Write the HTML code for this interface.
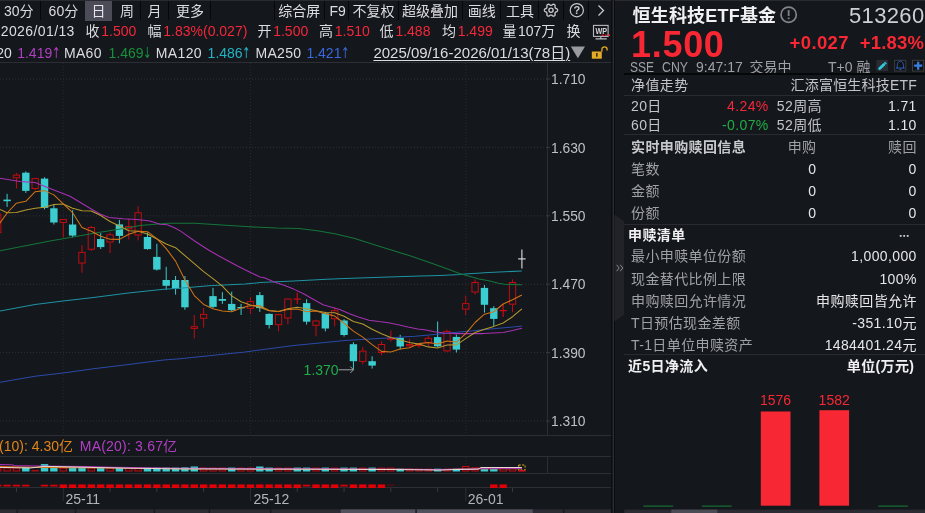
<!DOCTYPE html>
<html lang="zh-CN"><head><meta charset="utf-8"><title>恒生科技ETF基金 513260</title>
<style>
html,body{margin:0;padding:0;background:#14171b;}
body{width:925px;height:513px;overflow:hidden;position:relative;font-family:"Liberation Sans","Noto Sans CJK SC",sans-serif;font-size:14px;color:#dcdde0;}
.t{position:absolute;white-space:nowrap;line-height:20px;height:20px;}
.r{color:#f5283a;}
.hl{position:absolute;background:#2c2e34;height:1px;}
.vl{position:absolute;background:#07080a;width:1px;top:1px;height:19px;}
.lab{color:#a0a1a6;}
.w{color:#e6e6e8;}
.b{font-weight:bold;color:#f0f0f2;}
.rt{text-align:right;}
.rp{letter-spacing:0.38px;}
svg{position:absolute;left:0;top:0;}
.ar{font-family:"DejaVu Sans",sans-serif;font-size:15px;display:inline-block;transform:scaleX(.68);margin:0 -2.8px 0 -2.6px;line-height:1;}
</style></head><body>
<div class="hl" style="left:0;top:0;width:925px;background:#292b31"></div><div style="position:absolute;left:85.300px;top:1px;width:26.900px;height:19.500px;background:#4b4c58"></div><div class="vl" style="left:40px"></div><div class="vl" style="left:140px"></div><div class="vl" style="left:168px"></div><div class="vl" style="left:210px"></div><div class="vl" style="left:274px"></div><div class="vl" style="left:324px"></div><div class="vl" style="left:348px"></div><div class="vl" style="left:398px"></div><div class="vl" style="left:462px"></div><div class="vl" style="left:500px"></div><div class="vl" style="left:538px"></div><div class="vl" style="left:563px"></div><div class="vl" style="left:588px"></div><div class="t " style="left:4px;top:0.5px;">30分</div><div class="t " style="left:48.6px;top:0.5px;">60分</div><div class="t w" style="left:91.5px;top:0.5px;">日</div><div class="t " style="left:120px;top:0.5px;">周</div><div class="t " style="left:147.5px;top:0.5px;">月</div><div class="t " style="left:176px;top:0.5px;">更多</div><div class="t " style="left:278.2px;top:0.5px;">综合屏</div><div class="t " style="left:329.4px;top:0.5px;">F9</div><div class="t " style="left:352.6px;top:0.5px;">不复权</div><div class="t " style="left:402px;top:0.5px;">超级叠加</div><div class="t " style="left:467.8px;top:0.5px;">画线</div><div class="t " style="left:505.9px;top:0.5px;">工具</div><div class="t rt " style="right:850.20px;top:21px;letter-spacing:0.4px">2026/01/13</div><div class="t " style="left:85.5px;top:21px;">收</div><div class="t r" style="left:101.3px;top:21px;">1.500</div><div class="t " style="left:147.5px;top:21px;">幅</div><div class="t r" style="left:163.3px;top:21px;">1.83%(0.027)</div><div class="t " style="left:257.4px;top:21px;">开</div><div class="t r" style="left:273.2px;top:21px;">1.500</div><div class="t " style="left:319px;top:21px;">高</div><div class="t r" style="left:334.8px;top:21px;">1.510</div><div class="t " style="left:379.6px;top:21px;">低</div><div class="t r" style="left:395.40000000000003px;top:21px;">1.488</div><div class="t " style="left:441.9px;top:21px;">均</div><div class="t r" style="left:457.7px;top:21px;">1.499</div><div class="t " style="left:502.4px;top:21px;">量</div><div class="t " style="left:518px;top:21px;">107万</div><div class="t " style="left:566.4px;top:21px;">换</div><div class="t rt " style="right:913.10px;top:42.5px;">MA20</div><div class="t " style="left:17.2px;top:42.5px;color:#b13fc4">1.419<span class="ar">↑</span></div><div class="t " style="left:64px;top:42.5px;letter-spacing:0.3px">MA60</div><div class="t " style="left:108.6px;top:42.5px;color:#17913c">1.469<span class="ar">↓</span></div><div class="t " style="left:155.8px;top:42.5px;letter-spacing:0.35px">MA120</div><div class="t " style="left:207.6px;top:42.5px;color:#25b3c4">1.486<span class="ar">↑</span></div><div class="t " style="left:255.4px;top:42.5px;letter-spacing:0.35px">MA250</div><div class="t " style="left:306.4px;top:42.5px;color:#3868dc">1.421<span class="ar">↑</span></div><div class="t " style="left:373.4px;top:42.5px;font-size:15px;text-decoration:underline;text-underline-offset:2px;text-decoration-thickness:1px">2025/09/16-2026/01/13(78日)</div><div class="hl" style="left:0;top:62px;width:612px"></div><div class="hl" style="left:0;top:435px;width:612px"></div><div class="hl" style="left:0;top:456px;width:612px"></div><div class="hl" style="left:0;top:473px;width:612px"></div><div class="hl" style="left:0;top:487px;width:612px"></div><div class="t rt " style="right:852.00px;top:435.8px;color:#e0861a">MA(10): 4.30亿</div><div class="t " style="left:79.8px;top:435.8px;color:#b13fc4;letter-spacing:0.2px">MA(20): 3.67亿</div><div class="t " style="left:65.4px;top:488.8px;color:#b4b5b9">25-11</div><div class="t " style="left:253.4px;top:488.8px;color:#b4b5b9">25-12</div><div class="t " style="left:467.8px;top:488.8px;color:#b4b5b9">26-01</div><div class="t b" style="left:632.5px;top:4px;font-size:18px;line-height:24px;height:24px;letter-spacing:0.2px">恒生科技ETF基金</div><div class="t rt" style="right:0.5px;top:4px;font-size:22px;line-height:24px;height:24px;color:#cfd0d3;letter-spacing:0.35px">513260</div><div class="t r" style="left:631px;top:24.700px;font-size:36px;font-weight:bold;line-height:40px;height:40px;color:#f72834;letter-spacing:0.7px">1.500</div><div class="t r rt" style="right:76px;top:33px;font-size:18.5px;font-weight:bold;color:#f72834;letter-spacing:0.4px">+0.027</div><div class="t r rt" style="right:0.800px;top:33px;font-size:18.5px;font-weight:bold;color:#f72834;letter-spacing:0.2px">+1.83%</div><div class="t lab" style="left:629.7px;top:56.599999999999994px;transform:scaleX(.86);transform-origin:left">SSE</div><div class="t lab" style="left:661.5px;top:56.599999999999994px;transform:scaleX(.88);transform-origin:left">CNY</div><div class="t lab" style="left:696px;top:56.599999999999994px;">9:47:17</div><div class="t lab" style="left:749.5px;top:56.599999999999994px;">交易中</div><div class="t lab" style="left:828px;top:56.599999999999994px;">T+0 融</div><div style="position:absolute;left:624px;top:73px;width:301px;height:2px;background:#060709"></div><div class="hl" style="left:624px;top:94.5px;width:301px;background:#292b31"></div><div class="hl" style="left:624px;top:134px;width:301px;background:#292b31"></div><div class="hl" style="left:624px;top:223.5px;width:301px;background:#292b31"></div><div class="hl" style="left:624px;top:353.8px;width:301px;background:#292b31"></div><div class="t  rp" style="left:631px;top:75px;color:#c3c4c8">净值走势</div><div class="t rt  rp" style="right:8.02px;top:75px;color:#c3c4c8;letter-spacing:0.2px">汇添富恒生科技ETF</div><div class="t  rp" style="left:631px;top:96px;color:#c3c4c8">20日</div><div class="t rt r rp" style="right:156.32px;top:96px;">4.24%</div><div class="t  rp" style="left:776.8px;top:96px;color:#c3c4c8">52周高</div><div class="t rt w rp" style="right:8.22px;top:96px;">1.71</div><div class="t  rp" style="left:631px;top:115.4px;color:#c3c4c8">60日</div><div class="t rt  rp" style="right:156.32px;top:115.4px;color:#1fae46">-0.07%</div><div class="t  rp" style="left:776.8px;top:115.4px;color:#c3c4c8">52周低</div><div class="t rt w rp" style="right:8.22px;top:115.4px;">1.10</div><div class="t b rp" style="left:631px;top:136.6px;color:#c8c9cc">实时申购赎回信息</div><div class="t rt lab rp" style="right:108.62px;top:136.6px;">申购</div><div class="t rt lab rp" style="right:8.22px;top:136.6px;">赎回</div><div class="t lab rp" style="left:631px;top:158.7px;">笔数</div><div class="t rt w rp" style="right:108.62px;top:158.7px;">0</div><div class="t rt w rp" style="right:8.22px;top:158.7px;">0</div><div class="t lab rp" style="left:631px;top:180.8px;">金额</div><div class="t rt w rp" style="right:108.62px;top:180.8px;">0</div><div class="t rt w rp" style="right:8.22px;top:180.8px;">0</div><div class="t lab rp" style="left:631px;top:202.6px;">份额</div><div class="t rt w rp" style="right:108.62px;top:202.6px;">0</div><div class="t rt w rp" style="right:8.22px;top:202.6px;">0</div><div class="t b rp" style="left:628px;top:225px;">申赎清单</div><div class="t lab rp" style="left:631px;top:246.3px;">最小申赎单位份额</div><div class="t rt w rp" style="right:8.22px;top:246.3px;">1,000,000</div><div class="t lab rp" style="left:631px;top:269.2px;">现金替代比例上限</div><div class="t rt w rp" style="right:8.22px;top:269.2px;">100%</div><div class="t lab rp" style="left:631px;top:291.3px;">申购赎回允许情况</div><div class="t rt w rp" style="right:8.22px;top:291.3px;">申购赎回皆允许</div><div class="t lab rp" style="left:631px;top:312.7px;">T日预估现金差额</div><div class="t rt w rp" style="right:8.22px;top:312.7px;">-351.10元</div><div class="t lab rp" style="left:631px;top:334.5px;">T-1日单位申赎资产</div><div class="t rt w rp" style="right:8.22px;top:334.5px;">1484401.24元</div><div class="t b rp" style="left:628px;top:356px;">近5日净流入</div><div class="t rt b rp" style="right:10.62px;top:356px;">单位(万元)</div><div class="t" style="left:745.600px;width:60px;text-align:center;top:390px;color:#f72834">1576</div><div class="t" style="left:804.200px;width:60px;text-align:center;top:389.500px;color:#f72834">1582</div>
<svg width="925" height="513" viewBox="0 0 925 513">
<g fill="none" stroke="#c8c9cc" stroke-width="1.35" stroke-linejoin="round"><circle cx="551" cy="10.2" r="2.1"/><path d="M557.60 10.20L557.55 10.63L557.39 11.04L557.11 11.41L556.55 11.69L555.99 11.89L555.67 12.14L555.43 12.38L555.24 12.65L555.11 12.94L555.01 13.28L554.96 13.68L555.07 14.27L555.11 14.88L554.92 15.31L554.64 15.65L554.30 15.92L553.90 16.08L553.46 16.15L553.00 16.10L552.49 15.75L552.03 15.37L551.66 15.22L551.32 15.13L551.00 15.10L550.68 15.13L550.34 15.22L549.97 15.37L549.51 15.75L549.00 16.10L548.54 16.15L548.10 16.08L547.70 15.92L547.36 15.65L547.08 15.31L546.89 14.88L546.93 14.27L547.04 13.68L546.99 13.28L546.89 12.94L546.76 12.65L546.57 12.38L546.33 12.14L546.01 11.89L545.45 11.69L544.89 11.41L544.61 11.04L544.45 10.63L544.40 10.20L544.45 9.77L544.61 9.36L544.89 8.99L545.45 8.71L546.01 8.51L546.33 8.26L546.57 8.02L546.76 7.75L546.89 7.46L546.99 7.12L547.04 6.72L546.93 6.13L546.89 5.52L547.08 5.09L547.36 4.75L547.70 4.48L548.10 4.32L548.54 4.25L549.00 4.30L549.51 4.65L549.97 5.03L550.34 5.18L550.68 5.27L551.00 5.30L551.32 5.27L551.66 5.18L552.03 5.03L552.49 4.65L553.00 4.30L553.46 4.25L553.90 4.32L554.30 4.48L554.64 4.75L554.92 5.09L555.11 5.52L555.07 6.13L554.96 6.72L555.01 7.12L555.11 7.46L555.24 7.75L555.43 8.02L555.67 8.26L555.99 8.51L556.55 8.71L557.11 8.99L557.39 9.36L557.55 9.77z"/></g>
<circle cx="576.8" cy="10.2" r="6.6" fill="none" stroke="#c8c9cc" stroke-width="1.2"/>
<text x="576.8" y="14.3" font-size="11" font-weight="bold" fill="#c8c9cc" text-anchor="middle" font-family='Liberation Sans,sans-serif'>?</text>
<path d="M598.5 5.5l5 5-5 5" fill="none" stroke="#c8c9cc" stroke-width="1.3"/>
<g fill="none" stroke="#b9babd" stroke-width="1.1"><rect x="593.5" y="25.4" width="14.6" height="11"/><path d="M600.8 36.4v2M595.5 38.9h11.3"/></g>
<text x="601.3" y="34.3" font-size="8.2" font-weight="bold" fill="#d4d4d7" text-anchor="middle" textLength="11.6" lengthAdjust="spacingAndGlyphs" font-family='Liberation Sans,sans-serif'>WP</text>
<path d="M601.800 35.3h8.400" stroke="#f01c2c" stroke-width="1.600" stroke-dasharray="1.800 1.400"/>
<path d="M570.800 46.600h14.200l-7.100 11.600z" fill="#9a9ba0"/>
<g><rect x="591.800" y="51.500" width="10" height="7.200" fill="#e4ab24"/><rect x="596.200" y="53" width="1.300" height="3.700" fill="#14171b"/><path d="M601.900 51.800v-2.400a2.600 2.600 0 0 1 5.200 0v1.200" fill="none" stroke="#e4ab24" stroke-width="1.300"/></g>
<path d="M0 79H548" stroke="#2e3037" stroke-width="1" stroke-dasharray="1 2"/>
<path d="M546 79H550" stroke="#3a3c43" stroke-width="1"/>
<path d="M0 147.4H548" stroke="#2e3037" stroke-width="1" stroke-dasharray="1 2"/>
<path d="M546 147.4H550" stroke="#3a3c43" stroke-width="1"/>
<path d="M0 215.8H548" stroke="#2e3037" stroke-width="1" stroke-dasharray="1 2"/>
<path d="M546 215.8H550" stroke="#3a3c43" stroke-width="1"/>
<path d="M0 284.2H548" stroke="#2e3037" stroke-width="1" stroke-dasharray="1 2"/>
<path d="M546 284.2H550" stroke="#3a3c43" stroke-width="1"/>
<path d="M0 352.6H548" stroke="#2e3037" stroke-width="1" stroke-dasharray="1 2"/>
<path d="M546 352.6H550" stroke="#3a3c43" stroke-width="1"/>
<path d="M0 421H548" stroke="#2e3037" stroke-width="1" stroke-dasharray="1 2"/>
<path d="M546 421H550" stroke="#3a3c43" stroke-width="1"/>
<path d="M63.3 63V435" stroke="#272930" stroke-width="1" stroke-dasharray="1 2"/>
<path d="M63.3 457V473" stroke="#272930" stroke-width="1" stroke-dasharray="1 2"/>
<path d="M250.5 63V435" stroke="#272930" stroke-width="1" stroke-dasharray="1 2"/>
<path d="M250.5 457V473" stroke="#272930" stroke-width="1" stroke-dasharray="1 2"/>
<path d="M465.8 63V435" stroke="#272930" stroke-width="1" stroke-dasharray="1 2"/>
<path d="M465.8 457V473" stroke="#272930" stroke-width="1" stroke-dasharray="1 2"/>
<path d="M547.5 62V435.5M547.5 456.5V473.5" stroke="#2c2e35" stroke-width="1"/>
<path d="M-2.27 208V213.7M-2.27 232.8V236" stroke="#c40c12" stroke-width="1"/>
<rect x="-5.42" y="214" width="6.3" height="18.5" fill="none" stroke="#c40c12" stroke-width="1"/>
<path d="M7.09 193.8V206.9" stroke="#3ccdd0" stroke-width="1"/>
<rect x="3.39" y="199.6" width="7.4" height="1.6" fill="#3ccdd0"/>
<path d="M16.45 172.9V174.8M16.45 178.1V188.5" stroke="#c40c12" stroke-width="1"/>
<rect x="13.3" y="175.1" width="6.3" height="2.7" fill="none" stroke="#c40c12" stroke-width="1"/>
<path d="M25.81 171.4V192.9" stroke="#3ccdd0" stroke-width="1"/>
<rect x="22.11" y="172.7" width="7.4" height="18.2" fill="#3ccdd0"/>
<path d="M35.17 188.8V190.3" stroke="#c40c12" stroke-width="1"/>
<rect x="32.02" y="178.6" width="6.3" height="9.9" fill="none" stroke="#c40c12" stroke-width="1"/>
<path d="M44.53 177.3V209.4" stroke="#3ccdd0" stroke-width="1"/>
<rect x="40.83" y="178.6" width="7.4" height="29.3" fill="#3ccdd0"/>
<path d="M53.89 204.6V224.5" stroke="#3ccdd0" stroke-width="1"/>
<rect x="50.19" y="208.3" width="7.4" height="14.2" fill="#3ccdd0"/>
<path d="M63.25 222.7V237.1" stroke="#c40c12" stroke-width="1"/>
<rect x="60.1" y="219.5" width="6.3" height="2.9" fill="none" stroke="#c40c12" stroke-width="1"/>
<path d="M72.61 210.2V237.5" stroke="#3ccdd0" stroke-width="1"/>
<rect x="68.91" y="224.5" width="7.4" height="11.1" fill="#3ccdd0"/>
<path d="M81.97 245.1V252.1M81.97 263.3V272.8" stroke="#c40c12" stroke-width="1"/>
<rect x="78.82" y="252.4" width="6.3" height="10.6" fill="none" stroke="#c40c12" stroke-width="1"/>
<path d="M91.33 226V227.2M91.33 249.5V251" stroke="#c40c12" stroke-width="1"/>
<rect x="88.18" y="227.5" width="6.3" height="21.7" fill="none" stroke="#c40c12" stroke-width="1"/>
<path d="M100.69 233.1V249.1" stroke="#3ccdd0" stroke-width="1"/>
<rect x="96.99" y="239" width="7.4" height="8.1" fill="#3ccdd0"/>
<path d="M110.05 232.5V234.5M110.05 242.3V253" stroke="#c40c12" stroke-width="1"/>
<rect x="106.9" y="234.8" width="6.3" height="7.2" fill="none" stroke="#c40c12" stroke-width="1"/>
<path d="M119.41 219.9V243.3" stroke="#3ccdd0" stroke-width="1"/>
<rect x="115.71" y="224.4" width="7.4" height="11.5" fill="#3ccdd0"/>
<path d="M128.77 218.9V226.3M128.77 229.2V239.4" stroke="#c40c12" stroke-width="1"/>
<rect x="125.62" y="226.6" width="6.3" height="2.3" fill="none" stroke="#c40c12" stroke-width="1"/>
<path d="M138.13 206.4V212.5M138.13 235.3V240.4" stroke="#c40c12" stroke-width="1"/>
<rect x="134.98" y="212.8" width="6.3" height="22.2" fill="none" stroke="#c40c12" stroke-width="1"/>
<path d="M147.49 232.5V249.7" stroke="#3ccdd0" stroke-width="1"/>
<rect x="143.79" y="237" width="7.4" height="12.1" fill="#3ccdd0"/>
<path d="M156.85 243.8V270.6" stroke="#3ccdd0" stroke-width="1"/>
<rect x="153.15" y="256.9" width="7.4" height="12.7" fill="#3ccdd0"/>
<path d="M166.21 266.8V289.8" stroke="#3ccdd0" stroke-width="1"/>
<rect x="162.51" y="280" width="7.4" height="5.8" fill="#3ccdd0"/>
<path d="M175.57 276V294.6" stroke="#3ccdd0" stroke-width="1"/>
<rect x="171.87" y="280" width="7.4" height="8.7" fill="#3ccdd0"/>
<path d="M184.93 276V309.8" stroke="#3ccdd0" stroke-width="1"/>
<rect x="181.23" y="280" width="7.4" height="27.3" fill="#3ccdd0"/>
<path d="M194.29 315V326.4M194.29 328.7V338.4" stroke="#c40c12" stroke-width="1"/>
<rect x="191.14" y="326.7" width="6.3" height="1.7" fill="none" stroke="#c40c12" stroke-width="1"/>
<path d="M203.65 307.8V314.1M203.65 318.6V327.7" stroke="#c40c12" stroke-width="1"/>
<rect x="200.5" y="314.4" width="6.3" height="3.9" fill="none" stroke="#c40c12" stroke-width="1"/>
<path d="M213.01 287.8V308.2" stroke="#3ccdd0" stroke-width="1"/>
<rect x="209.31" y="296.1" width="7.4" height="10.8" fill="#3ccdd0"/>
<path d="M222.37 292.2V303.9" stroke="#3ccdd0" stroke-width="1"/>
<rect x="218.67" y="299" width="7.4" height="1.8" fill="#3ccdd0"/>
<path d="M231.73 291.7V311.2" stroke="#3ccdd0" stroke-width="1"/>
<rect x="228.03" y="303.9" width="7.4" height="6.3" fill="#3ccdd0"/>
<path d="M241.09 303.9V315" stroke="#3ccdd0" stroke-width="1"/>
<rect x="237.39" y="307" width="7.4" height="1.3" fill="#3ccdd0"/>
<path d="M250.45 297.2V301.3M250.45 308.6V314" stroke="#c40c12" stroke-width="1"/>
<rect x="247.3" y="301.6" width="6.3" height="6.7" fill="none" stroke="#c40c12" stroke-width="1"/>
<path d="M259.81 292V311.9" stroke="#3ccdd0" stroke-width="1"/>
<rect x="256.11" y="295.1" width="7.4" height="13" fill="#3ccdd0"/>
<path d="M269.17 313.3V328.5" stroke="#3ccdd0" stroke-width="1"/>
<rect x="265.47" y="313.9" width="7.4" height="11.1" fill="#3ccdd0"/>
<path d="M278.53 313.7V314.4M278.53 325V331.4" stroke="#c40c12" stroke-width="1"/>
<rect x="275.38" y="314.7" width="6.3" height="10" fill="none" stroke="#c40c12" stroke-width="1"/>
<path d="M287.89 318.3V324.2" stroke="#c40c12" stroke-width="1"/>
<rect x="284.74" y="299" width="6.3" height="19" fill="none" stroke="#c40c12" stroke-width="1"/>
<path d="M297.25 292.4V304.1M293.55 299.2H300.95" stroke="#c40c12" stroke-width="1.2"/>
<path d="M306.61 299.2V324.6" stroke="#3ccdd0" stroke-width="1"/>
<rect x="302.91" y="303.1" width="7.4" height="18.6" fill="#3ccdd0"/>
<path d="M315.97 319.7V320.7M315.97 325.6V336.3" stroke="#c40c12" stroke-width="1"/>
<rect x="312.82" y="321" width="6.3" height="4.3" fill="none" stroke="#c40c12" stroke-width="1"/>
<path d="M325.33 311.9V331.4" stroke="#3ccdd0" stroke-width="1"/>
<rect x="321.63" y="313.3" width="7.4" height="15.2" fill="#3ccdd0"/>
<path d="M334.69 307.4V310.4M334.69 319.1V326.5" stroke="#c40c12" stroke-width="1"/>
<rect x="331.54" y="310.7" width="6.3" height="8.1" fill="none" stroke="#c40c12" stroke-width="1"/>
<path d="M344.05 319.2V336.6" stroke="#3ccdd0" stroke-width="1"/>
<rect x="340.35" y="320.5" width="7.4" height="14.5" fill="#3ccdd0"/>
<path d="M353.41 342.2V369.5" stroke="#3ccdd0" stroke-width="1"/>
<rect x="349.71" y="344.2" width="7.4" height="17" fill="#3ccdd0"/>
<path d="M362.77 346.9V350.8M362.77 361.7V364.5" stroke="#c40c12" stroke-width="1"/>
<rect x="359.62" y="351.1" width="6.3" height="10.3" fill="none" stroke="#c40c12" stroke-width="1"/>
<path d="M372.13 356.3V368.6" stroke="#3ccdd0" stroke-width="1"/>
<rect x="368.43" y="361.2" width="7.4" height="4.4" fill="#3ccdd0"/>
<path d="M381.49 341.3V344.2M381.49 352.8V355.3" stroke="#c40c12" stroke-width="1"/>
<rect x="378.34" y="344.5" width="6.3" height="8" fill="none" stroke="#c40c12" stroke-width="1"/>
<path d="M390.85 330.4V337.9M390.85 339.6V341.7" stroke="#c40c12" stroke-width="1"/>
<rect x="387.7" y="338.2" width="6.3" height="1.1" fill="none" stroke="#c40c12" stroke-width="1"/>
<path d="M400.21 334.8V349.5" stroke="#3ccdd0" stroke-width="1"/>
<rect x="396.51" y="337.8" width="7.4" height="8.7" fill="#3ccdd0"/>
<path d="M409.57 338.7V344.2M409.57 346.1V347.5" stroke="#c40c12" stroke-width="1"/>
<rect x="406.42" y="344.5" width="6.3" height="1.3" fill="none" stroke="#c40c12" stroke-width="1"/>
<path d="M418.93 343.5V347.4M415.23 345.4H422.63" stroke="#c40c12" stroke-width="1.2"/>
<path d="M428.29 336.1V338M428.29 343.2V346.3" stroke="#c40c12" stroke-width="1"/>
<rect x="425.14" y="338.3" width="6.3" height="4.6" fill="none" stroke="#c40c12" stroke-width="1"/>
<path d="M437.65 321.5V347.3" stroke="#3ccdd0" stroke-width="1"/>
<rect x="433.95" y="337.1" width="7.4" height="9.2" fill="#3ccdd0"/>
<path d="M447.01 329.7V331.1M447.01 351.2V352.1" stroke="#c40c12" stroke-width="1"/>
<rect x="443.86" y="331.4" width="6.3" height="19.5" fill="none" stroke="#c40c12" stroke-width="1"/>
<path d="M456.37 334.6V352.5" stroke="#3ccdd0" stroke-width="1"/>
<rect x="452.67" y="336.9" width="7.4" height="12.7" fill="#3ccdd0"/>
<path d="M465.73 295.7V303.3M465.73 309.4V315" stroke="#c40c12" stroke-width="1"/>
<rect x="462.58" y="303.6" width="6.3" height="5.5" fill="none" stroke="#c40c12" stroke-width="1"/>
<path d="M475.09 279.4V282.2M475.09 292.3V294.5" stroke="#c40c12" stroke-width="1"/>
<rect x="471.94" y="282.5" width="6.3" height="9.5" fill="none" stroke="#c40c12" stroke-width="1"/>
<path d="M484.45 285V312.6" stroke="#3ccdd0" stroke-width="1"/>
<rect x="480.75" y="287.9" width="7.4" height="16.9" fill="#3ccdd0"/>
<path d="M493.81 306.2V326.3" stroke="#3ccdd0" stroke-width="1"/>
<rect x="490.11" y="308.2" width="7.4" height="10.7" fill="#3ccdd0"/>
<path d="M503.17 304.3V317M499.47 310.7H506.87" stroke="#c40c12" stroke-width="1.2"/>
<path d="M512.53 279.4V282.2M512.53 304.5V312.3" stroke="#c40c12" stroke-width="1"/>
<rect x="509.38" y="282.5" width="6.3" height="21.7" fill="none" stroke="#c40c12" stroke-width="1"/>
<path d="M521.89 249.6V268.5M518.19 258.8H525.59" stroke="#d0d0d0" stroke-width="1.2"/>
<polyline fill="none" stroke="#2b4aa8" stroke-width="1.05" stroke-linejoin="round" points="0,382.3 35,376.3 63,373 93.5,368.8 128.5,364.6 163.6,360.1 180,358.7 245,351.9 293.7,345.6 330,342 345,340.6 378.7,338.6 415,336.3 434.5,334.6 454,332.6 473.5,330.7 493,328.7 515,326.8 521.9,326"/>
<polyline fill="none" stroke="#1d93a3" stroke-width="1.05" stroke-linejoin="round" points="0,311.1 35,304.5 63,301 93.5,297.5 128.5,292.9 163.6,289.3 180,288.2 208.7,285.8 245,284 260,282.6 293.7,281.1 326.7,279.2 345,278.4 373.5,277.6 420.2,275.9 440,275.4 460,274.6 465.3,274 488.7,272.4 521.9,271.1"/>
<polyline fill="none" stroke="#14753a" stroke-width="1.05" stroke-linejoin="round" points="0,250.8 50,241 100,232.3 125,228.3 140,225.4 167.3,223.2 194.6,223.2 222,225.1 249.3,226.8 276.6,228.1 298.7,228.5 317.4,230.8 336,233.9 354.8,238.6 373.5,244.4 392.1,250.2 410.8,256.1 429.5,262.6 440,266.2 449.7,269.7 459.5,273.6 469.2,276.3 479,278.9 488.7,280.8 498.5,283.3 504.3,284.3 521.9,284.7"/>
<polyline fill="none" stroke="#a631b2" stroke-width="1.05" stroke-linejoin="round" points="0,178.3 20,181.6 35,182.5 50,188.4 70,196.2 90,208.3 100,214 109,217.4 123,218.7 137,219.6 150,221 160,224.2 167.3,224.8 175,228 181,231.4 194.6,241 208.5,250 218.5,255.8 228.2,261 238,266.3 248,271.3 260,277 264.5,277.8 274.2,282.1 284,285.2 293.7,289.1 303.5,293.8 313.2,299.2 323,304.7 332.7,307.4 339.7,309.5 349.5,313.8 359.2,317.3 369,320.2 378.7,321.6 388.5,322.7 398.2,324.7 408,327 417.7,329 424.7,329.7 434.5,331.7 444.2,333 454,333.6 463.7,333.6 473.5,333.6 483.2,333.6 493,333 503.4,332.4 512.5,330.5 521.9,328.2"/>
<polyline fill="none" stroke="#b59a2e" stroke-width="1.05" stroke-linejoin="round" points="0,209.4 7.1,212.8 16.4,212.4 25.8,210 35.2,208.3 44.5,207.3 53.9,204.6 63.2,204 72.6,208.3 82,210.8 91.33,210.97 100.69,215.56 110.05,221.53 119.41,226.03 128.77,230.83 138.13,231.29 147.49,233.95 156.85,238.99 166.21,244.01 175.57,247.67 184.93,255.68 194.29,263.61 203.65,271.57 213.01,278.67 222.37,286.12 231.73,295.89 241.09,301.8 250.45,304.97 259.81,307.2 269.17,310.83 278.53,311.54 287.89,308.77 297.25,307.28 306.61,308.76 315.97,310.75 325.33,312.58 334.69,312.8 344.05,316.17 353.41,321.48 362.77,324.06 372.13,329.18 381.49,333.73 390.85,337.6 400.21,340.08 409.57,342.43 418.93,344.12 428.29,346.88 437.65,348.01 447.01,345 456.37,344.88 465.73,338.65 475.09,332.45 484.45,329.14 493.81,326.38 503.17,323.03 512.53,316.71 521.89,308.79"/>
<polyline fill="none" stroke="#cf7418" stroke-width="1.05" stroke-linejoin="round" points="-2.3,226 0,223 7.1,213 16.4,203.2 25.8,201.3 35.2,191.7 44.53,190.62 53.89,194.88 63.25,203.76 72.61,212.7 81.97,227.46 91.33,231.32 100.69,236.24 110.05,239.3 119.41,239.36 128.77,234.2 138.13,231.26 147.49,231.66 156.85,238.68 166.21,248.66 175.57,261.14 184.93,280.1 194.29,295.56 203.65,304.46 213.01,308.68 222.37,311.1 231.73,311.68 241.09,308.04 250.45,305.48 259.81,305.72 269.17,310.56 278.53,311.4 287.89,309.5 297.25,309.08 306.61,311.8 315.97,310.94 325.33,313.76 334.69,316.1 344.05,323.26 353.41,331.16 362.77,337.18 372.13,344.6 381.49,351.36 390.85,351.94 400.21,349 409.57,347.68 418.93,343.64 428.29,342.4 437.65,344.08 447.01,341 456.37,342.08 465.73,333.66 475.09,322.5 484.45,314.2 493.81,311.76 503.17,303.98 512.53,299.76 521.89,295.08"/>
<text x="303.6" y="374.6" font-size="14" fill="#20ad48" font-family='Liberation Sans,sans-serif'>1.370</text>
<path d="M338.5 369.8H353.5M350.3 366.6l3.2 3.2-3.2 3.2" fill="none" stroke="#a0a1a5" stroke-width="1"/>
<text x="551" y="84.2" font-size="13.8" fill="#bfc0c3" font-family='Liberation Sans,sans-serif'>1.710</text>
<text x="551" y="152.6" font-size="13.8" fill="#bfc0c3" font-family='Liberation Sans,sans-serif'>1.630</text>
<text x="551" y="221.0" font-size="13.8" fill="#bfc0c3" font-family='Liberation Sans,sans-serif'>1.550</text>
<text x="551" y="289.4" font-size="13.8" fill="#bfc0c3" font-family='Liberation Sans,sans-serif'>1.470</text>
<text x="551" y="357.8" font-size="13.8" fill="#bfc0c3" font-family='Liberation Sans,sans-serif'>1.390</text>
<text x="551" y="426.2" font-size="13.8" fill="#bfc0c3" font-family='Liberation Sans,sans-serif'>1.310</text>
<rect x="-5.47" y="468" width="6.4" height="3" fill="#2a0a0e" stroke="#c00c14" stroke-width="1"/>
<rect x="3.89" y="468" width="6.4" height="3" fill="#2a0a0e" stroke="#c00c14" stroke-width="1"/>
<rect x="13.25" y="468" width="6.4" height="3" fill="#2a0a0e" stroke="#c00c14" stroke-width="1"/>
<rect x="22.11" y="467.3" width="7.4" height="4.2" fill="#3ccdd0"/>
<rect x="31.47" y="469.9" width="7.4" height="1.6" fill="#a80c12"/>
<rect x="40.83" y="464.1" width="7.4" height="7.4" fill="#3ccdd0"/>
<rect x="50.19" y="467.6" width="7.4" height="3.9" fill="#3ccdd0"/>
<rect x="60.05" y="468.1" width="6.4" height="2.9" fill="#2a0a0e" stroke="#c00c14" stroke-width="1"/>
<rect x="68.91" y="467.6" width="7.4" height="3.9" fill="#3ccdd0"/>
<rect x="78.27" y="467.6" width="7.4" height="3.9" fill="#3ccdd0"/>
<rect x="88.13" y="468.1" width="6.4" height="2.9" fill="#2a0a0e" stroke="#c00c14" stroke-width="1"/>
<rect x="96.99" y="467.6" width="7.4" height="3.9" fill="#3ccdd0"/>
<rect x="106.85" y="468.1" width="6.4" height="2.9" fill="#2a0a0e" stroke="#c00c14" stroke-width="1"/>
<rect x="115.71" y="467.6" width="7.4" height="3.9" fill="#3ccdd0"/>
<rect x="125.57" y="468.1" width="6.4" height="2.9" fill="#2a0a0e" stroke="#c00c14" stroke-width="1"/>
<rect x="134.93" y="468.1" width="6.4" height="2.9" fill="#2a0a0e" stroke="#c00c14" stroke-width="1"/>
<rect x="143.79" y="467.6" width="7.4" height="3.9" fill="#3ccdd0"/>
<rect x="153.15" y="467.6" width="7.4" height="3.9" fill="#3ccdd0"/>
<rect x="162.51" y="467.6" width="7.4" height="3.9" fill="#3ccdd0"/>
<rect x="171.87" y="467.6" width="7.4" height="3.9" fill="#3ccdd0"/>
<rect x="181.23" y="467.3" width="7.4" height="4.2" fill="#3ccdd0"/>
<rect x="190.59" y="466.5" width="7.4" height="5" fill="#3ccdd0"/>
<rect x="200.45" y="468.1" width="6.4" height="2.9" fill="#2a0a0e" stroke="#c00c14" stroke-width="1"/>
<rect x="209.81" y="468.1" width="6.4" height="2.9" fill="#2a0a0e" stroke="#c00c14" stroke-width="1"/>
<rect x="219.17" y="468.1" width="6.4" height="2.9" fill="#2a0a0e" stroke="#c00c14" stroke-width="1"/>
<rect x="228.03" y="467.6" width="7.4" height="3.9" fill="#3ccdd0"/>
<rect x="237.89" y="468.1" width="6.4" height="2.9" fill="#2a0a0e" stroke="#c00c14" stroke-width="1"/>
<rect x="247.25" y="468.1" width="6.4" height="2.9" fill="#2a0a0e" stroke="#c00c14" stroke-width="1"/>
<rect x="256.11" y="466.5" width="7.4" height="5" fill="#3ccdd0"/>
<rect x="265.47" y="467.6" width="7.4" height="3.9" fill="#3ccdd0"/>
<rect x="275.33" y="468.1" width="6.4" height="2.9" fill="#2a0a0e" stroke="#c00c14" stroke-width="1"/>
<rect x="284.69" y="468.1" width="6.4" height="2.9" fill="#2a0a0e" stroke="#c00c14" stroke-width="1"/>
<rect x="293.55" y="467.6" width="7.4" height="3.9" fill="#3ccdd0"/>
<rect x="302.91" y="467.6" width="7.4" height="3.9" fill="#3ccdd0"/>
<rect x="312.77" y="468.1" width="6.4" height="2.9" fill="#2a0a0e" stroke="#c00c14" stroke-width="1"/>
<rect x="321.63" y="467.6" width="7.4" height="3.9" fill="#3ccdd0"/>
<rect x="331.49" y="468.1" width="6.4" height="2.9" fill="#2a0a0e" stroke="#c00c14" stroke-width="1"/>
<rect x="340.35" y="467.6" width="7.4" height="3.9" fill="#3ccdd0"/>
<rect x="349.71" y="467.6" width="7.4" height="3.9" fill="#3ccdd0"/>
<rect x="359.57" y="468.1" width="6.4" height="2.9" fill="#2a0a0e" stroke="#c00c14" stroke-width="1"/>
<rect x="368.43" y="467.6" width="7.4" height="3.9" fill="#3ccdd0"/>
<rect x="378.29" y="468.1" width="6.4" height="2.9" fill="#2a0a0e" stroke="#c00c14" stroke-width="1"/>
<rect x="387.65" y="468.1" width="6.4" height="2.9" fill="#2a0a0e" stroke="#c00c14" stroke-width="1"/>
<rect x="396.51" y="468.7" width="7.4" height="2.8" fill="#3ccdd0"/>
<rect x="406.37" y="469.2" width="6.4" height="1.8" fill="#2a0a0e" stroke="#c00c14" stroke-width="1"/>
<rect x="415.73" y="469.2" width="6.4" height="1.8" fill="#2a0a0e" stroke="#c00c14" stroke-width="1"/>
<rect x="425.09" y="469.2" width="6.4" height="1.8" fill="#2a0a0e" stroke="#c00c14" stroke-width="1"/>
<rect x="433.95" y="468.7" width="7.4" height="2.8" fill="#3ccdd0"/>
<rect x="443.81" y="469.2" width="6.4" height="1.8" fill="#2a0a0e" stroke="#c00c14" stroke-width="1"/>
<rect x="452.67" y="468.7" width="7.4" height="2.8" fill="#3ccdd0"/>
<rect x="462.53" y="466.5" width="6.4" height="4.5" fill="#2a0a0e" stroke="#c00c14" stroke-width="1"/>
<rect x="471.89" y="467.8" width="6.4" height="3.2" fill="#2a0a0e" stroke="#c00c14" stroke-width="1"/>
<rect x="480.75" y="468.1" width="7.4" height="3.4" fill="#3ccdd0"/>
<rect x="490.11" y="468.1" width="7.4" height="3.4" fill="#3ccdd0"/>
<rect x="499.97" y="468.1" width="6.4" height="2.9" fill="#2a0a0e" stroke="#c00c14" stroke-width="1"/>
<rect x="509.33" y="468.1" width="6.4" height="2.9" fill="#2a0a0e" stroke="#c00c14" stroke-width="1"/>
<rect x="518.69" y="465" width="6.4" height="5" fill="none" stroke="#e0b020" stroke-width="1" stroke-dasharray="2 1.5"/>
<rect x="518.19" y="470" width="7.4" height="1.6" fill="#d0101a"/>
<polyline fill="none" stroke="#cf7418" stroke-width="1.1" stroke-linejoin="round" points="0,466.6 40,467.4 114,468 180,468.6 300,469 400,469.3 440,469.7 462,469.1 480,468.8 521.9,468.6"/>
<polyline fill="none" stroke="#a631b2" stroke-width="1.1" stroke-linejoin="round" points="0,464.6 12,464.8 14,465.6 40,466 86,466.6 114,467.4 180,468.2 300,468.8 400,469.2 440,469.6 462,469 480,468.7 521.9,468.5"/>
<polyline fill="none" stroke="#e8dcd0" stroke-width="1" stroke-linejoin="round" points="0,467.4 30,468 44,466.4 56,466.6 100,467.6 130,468.2 180,468.9 300,469.2 400,469.6 440,470 462,469.4 478,469.2 481,467.5 521.9,467.5"/>
<rect x="-5.97" y="484.700" width="7.4" height="1.800" fill="#d80008"/>
<rect x="3.39" y="484.700" width="7.4" height="1.800" fill="#d80008"/>
<rect x="12.75" y="484.700" width="7.4" height="1.800" fill="#d80008"/>
<rect x="22.11" y="484.700" width="7.4" height="1.800" fill="#d80008"/>
<rect x="40.83" y="484.700" width="7.4" height="1.800" fill="#d80008"/>
<rect x="50.19" y="484.700" width="7.4" height="1.800" fill="#d80008"/>
<rect x="302.91" y="484.700" width="7.4" height="1.800" fill="#d80008"/>
<rect x="340.35" y="484.700" width="7.4" height="1.800" fill="#d80008"/>
<rect x="59.55" y="484.400" width="7.4" height="3.600" fill="#e00008"/>
<rect x="68.91" y="484.400" width="7.4" height="3.600" fill="#e00008"/>
<rect x="78.27" y="484.400" width="7.4" height="3.600" fill="#e00008"/>
<rect x="87.63" y="484.400" width="7.4" height="3.600" fill="#e00008"/>
<rect x="96.99" y="484.400" width="7.4" height="3.600" fill="#e00008"/>
<rect x="106.35" y="484.400" width="7.4" height="3.600" fill="#e00008"/>
<rect x="115.71" y="484.400" width="7.4" height="3.600" fill="#e00008"/>
<rect x="125.07" y="484.400" width="7.4" height="3.600" fill="#e00008"/>
<rect x="134.43" y="484.400" width="7.4" height="3.600" fill="#e00008"/>
<rect x="143.79" y="484.400" width="7.4" height="3.600" fill="#e00008"/>
<rect x="153.15" y="484.400" width="7.4" height="3.600" fill="#e00008"/>
<rect x="162.51" y="484.400" width="7.4" height="3.600" fill="#e00008"/>
<rect x="171.87" y="484.400" width="7.4" height="3.600" fill="#e00008"/>
<rect x="181.23" y="484.400" width="7.4" height="3.600" fill="#e00008"/>
<rect x="190.59" y="484.400" width="7.4" height="3.600" fill="#e00008"/>
<rect x="199.95" y="484.400" width="7.4" height="3.600" fill="#e00008"/>
<rect x="209.31" y="484.400" width="7.4" height="3.600" fill="#e00008"/>
<rect x="218.67" y="484.400" width="7.4" height="3.600" fill="#e00008"/>
<rect x="228.03" y="484.400" width="7.4" height="3.600" fill="#e00008"/>
<rect x="237.39" y="484.400" width="7.4" height="3.600" fill="#e00008"/>
<rect x="246.75" y="484.400" width="7.4" height="3.600" fill="#e00008"/>
<rect x="256.11" y="484.400" width="7.4" height="3.600" fill="#e00008"/>
<rect x="265.47" y="484.400" width="7.4" height="3.600" fill="#e00008"/>
<rect x="274.83" y="484.400" width="7.4" height="3.600" fill="#e00008"/>
<rect x="284.19" y="484.400" width="7.4" height="3.600" fill="#e00008"/>
<rect x="293.55" y="484.400" width="7.4" height="3.600" fill="#e00008"/>
<rect x="312.27" y="484.400" width="7.4" height="3.600" fill="#e00008"/>
<rect x="321.63" y="484.400" width="7.4" height="3.600" fill="#e00008"/>
<rect x="330.99" y="484.400" width="7.4" height="3.600" fill="#e00008"/>
<rect x="349.71" y="484.400" width="7.4" height="3.600" fill="#e00008"/>
<rect x="359.07" y="484.400" width="7.4" height="3.600" fill="#e00008"/>
<rect x="368.43" y="484.400" width="7.4" height="3.600" fill="#e00008"/>
<rect x="377.79" y="484.400" width="7.4" height="3.600" fill="#e00008"/>
<rect x="490.11" y="484.400" width="7.4" height="3.600" fill="#e00008"/>
<rect x="499.47" y="484.400" width="7.4" height="3.600" fill="#e00008"/>
<rect x="387.15" y="484.6" width="7.4" height="1" fill="#70080c"/>
<path d="M16.45 488V491.8" stroke="#3a3c43" stroke-width="1"/>
<path d="M110.05 488V491.8" stroke="#3a3c43" stroke-width="1"/>
<path d="M156.85 488V491.8" stroke="#3a3c43" stroke-width="1"/>
<path d="M203.65 488V491.8" stroke="#3a3c43" stroke-width="1"/>
<path d="M297.25 488V491.8" stroke="#3a3c43" stroke-width="1"/>
<path d="M344.05 488V491.8" stroke="#3a3c43" stroke-width="1"/>
<path d="M390.85 488V491.8" stroke="#3a3c43" stroke-width="1"/>
<path d="M437.65 488V491.8" stroke="#3a3c43" stroke-width="1"/>
<path d="M512.53 488V491.8" stroke="#3a3c43" stroke-width="1"/>
<path d="M63.3 488V501" stroke="#2c2e35" stroke-width="1"/>
<path d="M250.5 488V501" stroke="#2c2e35" stroke-width="1"/>
<path d="M465.8 488V501" stroke="#2c2e35" stroke-width="1"/>
<rect x="0" y="509.4" width="611" height="4" fill="#2b2c33"/>
<rect x="340.8" y="509.4" width="192" height="4" fill="#50515c"/>
<rect x="16.5" y="509.4" width="1.4" height="4" fill="#14171b"/>
<rect x="74.8" y="509.4" width="1.4" height="4" fill="#14171b"/>
<rect x="153.7" y="509.4" width="1.4" height="4" fill="#14171b"/>
<rect x="208.7" y="509.4" width="1.4" height="4" fill="#14171b"/>
<rect x="270" y="509.4" width="1.4" height="4" fill="#14171b"/>
<rect x="415.4" y="509.4" width="1.4" height="4" fill="#14171b"/>
<rect x="563" y="509.4" width="1.4" height="4" fill="#14171b"/>
<rect x="611.200" y="0" width="3.600" height="513" fill="#0b0c0f"/>
<rect x="612.600" y="0" width="1.300" height="513" fill="#2e3036"/>
<path d="M614.4 214.5L624 221.3V314.7L614.4 321.5z" fill="#212329"/>
<path d="M616.6 264.8l2.6 3.2-2.6 3.2M620.2 264.8l2.6 3.2-2.6 3.2" fill="none" stroke="#8b8c92" stroke-width="1"/>
<circle cx="788.650" cy="14.700" r="7.650" fill="none" stroke="#85868b" stroke-width="1.650"/>
<path d="M788.650 10.100v5.800M788.650 17.500v1.800" stroke="#7c7d82" stroke-width="1.900"/>
<rect x="876.400" y="59.800" width="11.600" height="11.400" fill="#2a2b32"/>
<rect x="894.600" y="60.300" width="11.200" height="10.800" fill="#111215" stroke="#3b3c42" stroke-width="1"/>
<rect x="912.500" y="60.300" width="11.200" height="10.800" fill="#111215" stroke="#3b3c42" stroke-width="1"/>
<path d="M879.700 68.500L883.900 64.500" stroke="#30c8d8" stroke-width="2.900" stroke-linecap="round"/><path d="M885 63.500L886 62.600" stroke="#30c8d8" stroke-width="2.900"/>
<path d="M896 68.100h8.800M897.300 68c-.3-3 .2-6.600 3.100-6.900 2.900.3 3.400 3.900 3.100 6.900M899.500 69.600h1.800" fill="none" stroke="#2a62c0" stroke-width="1"/>
<path d="M914.200 65.700h8M918.200 61.700v8" stroke="#3a80e4" stroke-width="2.200"/>
<rect x="760.8" y="411.500" width="29.700" height="94.200" fill="#f72834"/>
<rect x="819.400" y="410.200" width="29.700" height="95.500" fill="#f72834"/>
<rect x="643.4" y="505.6" width="29.600" height="1" fill="#16813a"/>
<rect x="702" y="505.6" width="29.600" height="1" fill="#16813a"/>
<rect x="878.3" y="505.6" width="29.600" height="1" fill="#16813a"/>
<rect x="624.300" y="509.600" width="300.700" height="3.400" fill="#2b2c33"/>
<rect x="671.300" y="509.600" width="46" height="3.400" fill="#4a4b55"/>
<g fill="#cfd0d3"><rect x="899.800" y="235" width="1.800" height="1.800"/><rect x="903.300" y="235" width="1.800" height="1.800"/><rect x="906.800" y="235" width="1.800" height="1.800"/></g>
</svg>
</body></html>
